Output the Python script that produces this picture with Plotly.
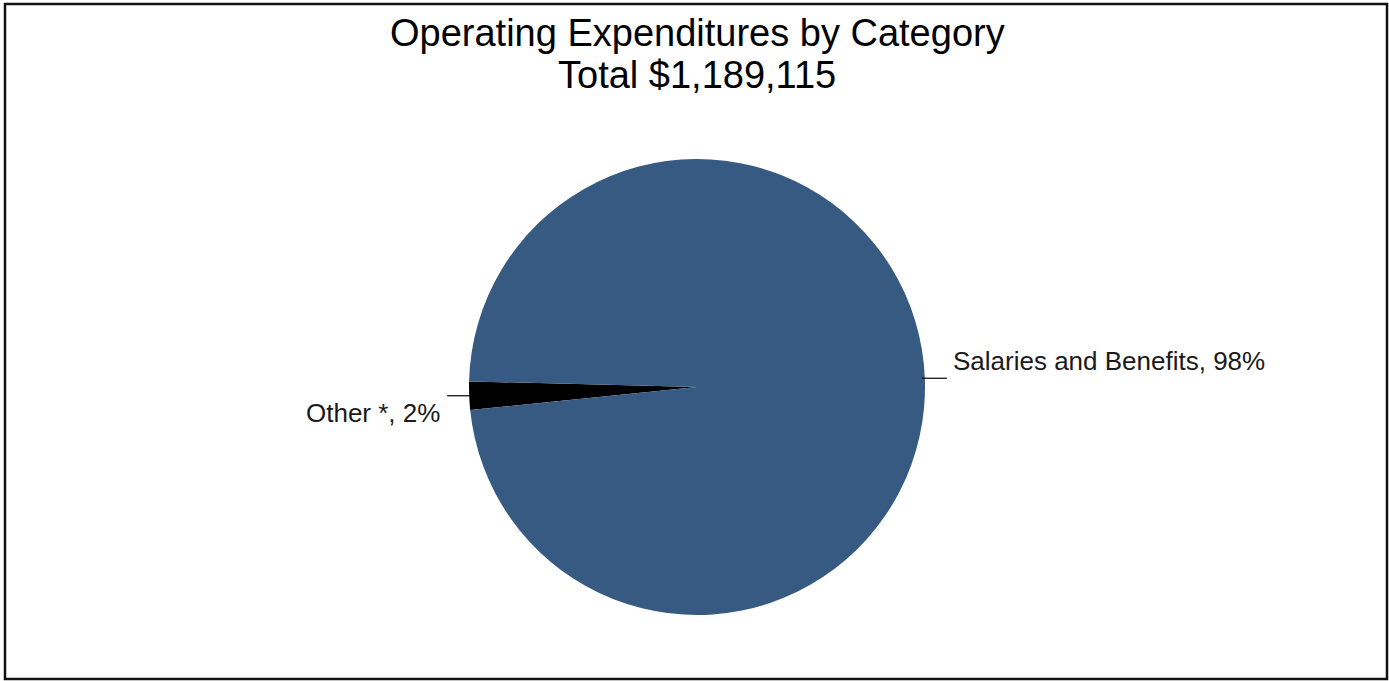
import math
import plotly.graph_objects as go

# Operating expenditure categories (dollars)
categories = ["Other *", "Salaries and Benefits"]
amounts = [23800, 1165315]
colors = ["#000000", "#365A82"]
title_lines = ["Operating Expenditures by Category", "Total $1,189,115"]

W, H = 1389, 681
cx, cy, R = 697, 387, 228          # pie centre and radius in pixels
start_deg = 185.8                  # math angle where the first slice begins (slices run clockwise)

FONT = "Liberation Sans, Arial, sans-serif"

fig = go.Figure(go.Pie(
    labels=categories,
    values=amounts,
    sort=False,
    direction="clockwise",
    rotation=90 - start_deg,
    marker=dict(colors=colors, line=dict(width=0)),
    textinfo="none",
    hoverinfo="label+percent+value",
    domain=dict(x=[(cx - R) / W, (cx + R) / W], y=[(H - cy - R) / H, (H - cy + R) / H]),
    showlegend=False,
))

shapes = [dict(type="rect", xref="paper", yref="paper",
               x0=5 / W, x1=1387 / W, y0=1 - 679 / H, y1=1 - 4 / H,
               line=dict(color="#111111", width=2.5))]
annotations = []

# Two-line title
for text, ypix in zip(title_lines, [33, 75]):
    annotations.append(dict(text=text, showarrow=False, xref="paper", yref="paper",
                            x=697 / W, y=1 - ypix / H, xanchor="center", yanchor="middle",
                            font=dict(family=FONT, size=38, color="#000000")))

# Outside slice labels with short horizontal leader lines
tot = sum(amounts)
cum = 0.0
for name, v in zip(categories, amounts):
    a0 = start_deg - 360 * cum / tot
    cum += v
    a1 = start_deg - 360 * cum / tot
    mid = math.radians((a0 + a1) / 2)
    pct = round(100 * v / tot)
    ex = cx + R * math.cos(mid)
    ey = cy - R * math.sin(mid)
    right = math.cos(mid) >= 0
    x_end = ex + (22 if right else -22)
    shapes.append(dict(type="line", xref="paper", yref="paper",
                       x0=(ex - (3 if right else -1)) / W, x1=x_end / W,
                       y0=1 - ey / H, y1=1 - ey / H,
                       line=dict(color="#000000", width=1.2)))
    annotations.append(dict(
        text=f"{name}, {pct}%", showarrow=False,
        xref="paper", yref="paper",
        x=(x_end + (4 if right else -5)) / W, y=1 - ey / H,
        xanchor="left" if right else "right",
        yanchor="bottom" if right else "top",
        font=dict(family=FONT, size=26, color="#1a1a1a"),
    ))

fig.update_layout(
    width=W, height=H,
    margin=dict(l=0, r=0, t=0, b=0),
    paper_bgcolor="white",
    plot_bgcolor="white",
    shapes=shapes,
    annotations=annotations,
)

fig.write_html("out.html")
